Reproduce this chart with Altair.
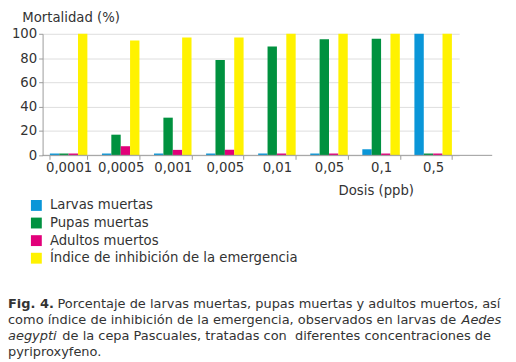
import altair as alt
import pandas as pd

doses = ["0,0001", "0,0005", "0,001", "0,005", "0,01", "0,05", "0,1", "0,5"]
larvas = [1.5, 1.5, 1.5, 1.5, 1.5, 1.5, 5, 100]
pupas = [1.5, 17, 31, 78.5, 89.5, 95.5, 96, 1.5]
adultos = [1.5, 7.5, 4.5, 4.5, 1.5, 1.5, 1.5, 1.5]
indice = [100, 94.5, 97, 97, 100, 100, 100, 100]
series = ["Larvas muertas", "Pupas muertas", "Adultos muertos",
          "Índice de inhibición de la emergencia"]
colors = ["#0a96d8", "#00913f", "#e2007a", "#fff200"]
y_ticks = [0, 20, 40, 60, 80, 100]

caption_l1_bold = "Fig. 4."
caption_l1 = "Porcentaje de larvas muertas, pupas muertas y adultos muertos, así"
caption_l2 = "como índice de inhibición de la emergencia, observados en larvas de"
caption_l2_it = "Aedes"
caption_l3_it = "aegypti"
caption_l3 = "de la cepa Pascuales, tratadas con\u00a0 diferentes concentraciones de"
caption_l4 = "pyriproxyfeno."

rows = []
for s, vals in zip(series, [larvas, pupas, adultos, indice]):
    for d, v in zip(doses, vals):
        rows.append({"dosis": d, "serie": s, "valor": v})
df = pd.DataFrame(rows)

FONT = "DejaVu Sans"
FS = 13.4
CFS = 13.1
TXT = "#333333"
AX = "#9a9a9a"
W, H = 455, 123
BAND_W = 421.6

bars = alt.Chart(df).mark_bar(clip=False).encode(
    x=alt.X("dosis:N", sort=doses,
            scale=alt.Scale(range=[0, BAND_W], paddingInner=0.28, paddingOuter=0.14),
            axis=alt.Axis(title="Dosis (ppb)", labelAngle=0, tickBand="extent",
                          domain=False, tickColor=AX, tickSize=4, labelPadding=1,
                          labelFont=FONT, labelFontSize=FS, labelColor=TXT,
                          titleFont=FONT, titleFontSize=FS, titleFontWeight="normal",
                          titleColor=TXT, titleAlign="left", titleBaseline="alphabetic",
                          titleX=299, titleY=40)),
    xOffset=alt.XOffset("serie:N", sort=series,
                        scale=alt.Scale(paddingInner=0, paddingOuter=0)),
    y=alt.Y("valor:Q", scale=alt.Scale(domain=[0, 100], nice=False),
            axis=alt.Axis(values=y_ticks, title="Mortalidad (%)", domainColor=AX,
                          tickColor=AX, tickSize=4, labelPadding=2,
                          labelFont=FONT, labelFontSize=FS, labelColor=TXT,
                          titleFont=FONT, titleFontSize=FS, titleFontWeight="normal",
                          titleColor=TXT, titleAngle=0, titleAlign="left",
                          titleBaseline="alphabetic", titleX=-21, titleY=-12.5)),
    color=alt.Color("serie:N", sort=series,
                    scale=alt.Scale(domain=series, range=colors),
                    legend=alt.Legend(title=None, orient="none", legendX=-13, legendY=167,
                                      symbolType="square", symbolSize=121,
                                      symbolStrokeWidth=0, labelFont=FONT,
                                      labelFontSize=FS, labelColor=TXT, padding=0,
                                      rowPadding=2.8, labelOffset=7, labelLimit=0)),
)

xline = alt.Chart(alt.Data(values=[{}])).mark_rule(color=AX, strokeWidth=1).encode(
    x=alt.value(0), x2=alt.value(W), y=alt.value(H))


def txt(s, x, y, weight="normal", style="normal"):
    return alt.Chart(alt.Data(values=[{"t": s}])).mark_text(
        align="left", baseline="alphabetic", font=FONT, fontSize=CFS, color=TXT,
        fontWeight=weight, fontStyle=style).encode(
        text="t:N", x=alt.value(x), y=alt.value(y))


L = -35
cap = [
    txt(caption_l1_bold, L, 277, weight="bold"),
    txt(caption_l1, L + 50, 277),
    txt(caption_l2, L, 293.5),
    txt(caption_l2_it, L + 459, 293.5, style="italic"),
    txt(caption_l3_it, L, 310),
    txt(caption_l3, L + 55, 310),
    txt(caption_l4, L, 326.5),
]
cap[4] = txt(caption_l3_it, L, 310, style="italic")

chart = alt.layer(bars, xline, *cap).properties(
    width=W, height=H,
    autosize=alt.AutoSizeParams(type="none"),
    padding={"left": 35, "top": 24, "right": 16, "bottom": 205},
).configure_view(stroke=None)

chart.save("out.html", embed_options={"renderer": "svg", "actions": False})
